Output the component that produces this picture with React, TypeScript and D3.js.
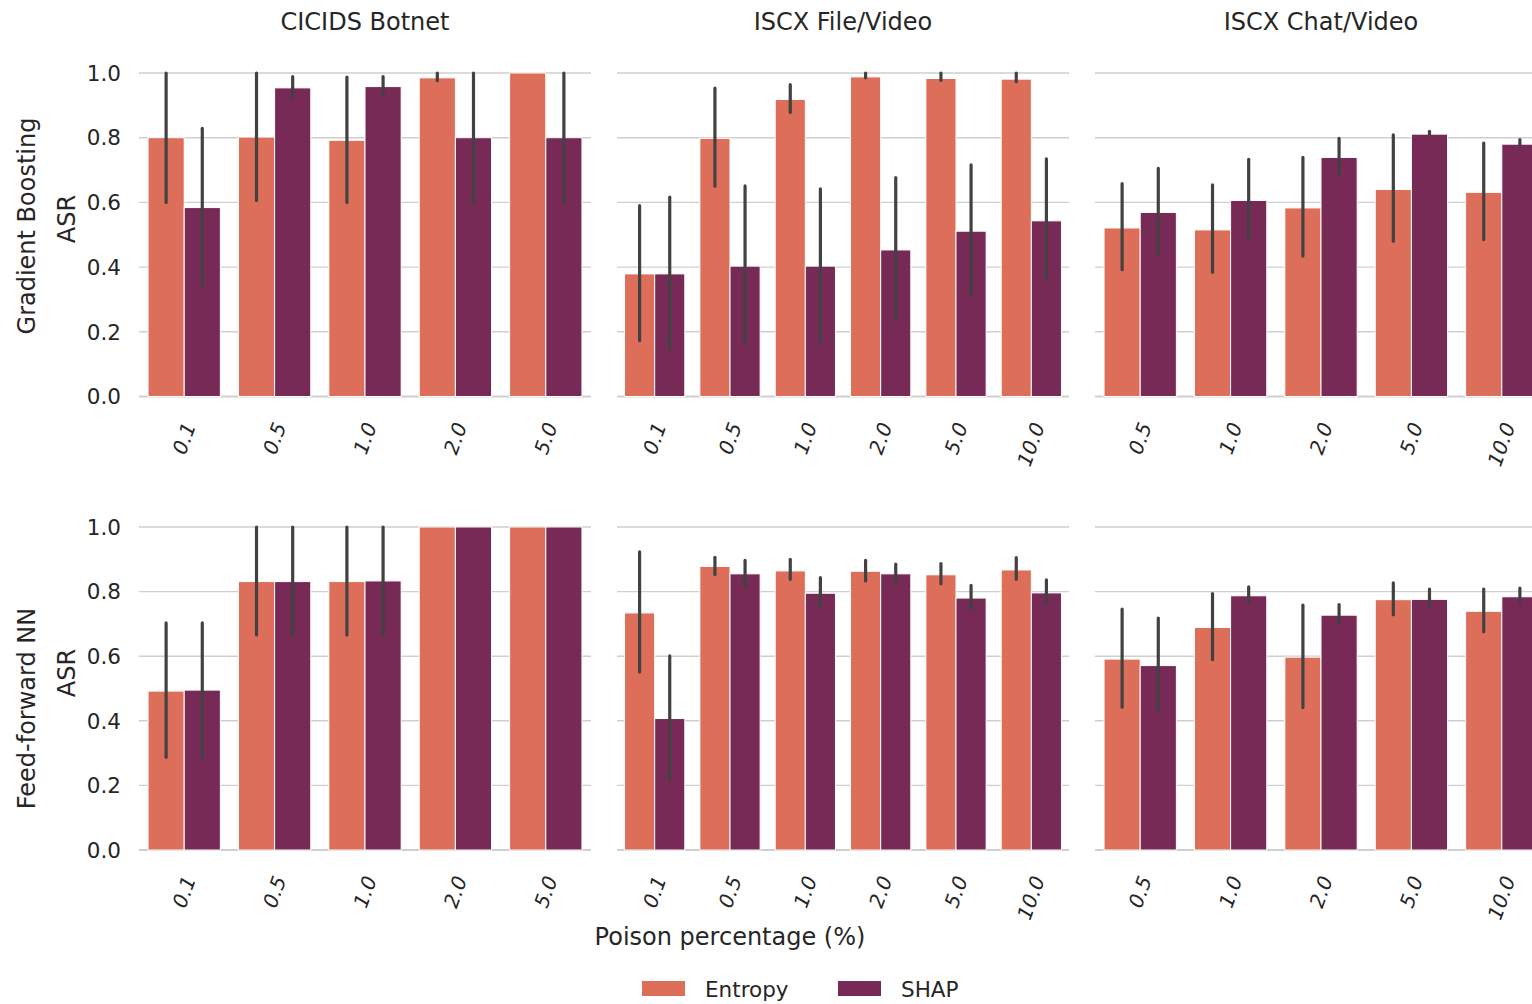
import React, { useEffect, useRef } from "react";
import * as d3 from "d3";

// categories (poison percentage)
const cicidsCats = ["0.1", "0.5", "1.0", "2.0", "5.0"];
const fileVideoCats = ["0.1", "0.5", "1.0", "2.0", "5.0", "10.0"];
const chatVideoCats = ["0.5", "1.0", "2.0", "5.0", "10.0"];

const methods = ["Entropy", "SHAP"];
const colors = ["#dc6e5a", "#782a57"];

// [mean, ci low, ci high]
// Gradient Boosting
const gbCicidsEntropy = [[0.8, 0.6, 1.0], [0.802, 0.606, 1.0], [0.792, 0.6, 0.987], [0.985, 0.976, 1.0], [1.0, 1.0, 1.0]];
const gbCicidsShap = [[0.584, 0.345, 0.829], [0.954, 0.925, 0.989], [0.958, 0.934, 0.989], [0.8, 0.6, 1.0], [0.8, 0.6, 1.0]];
const gbFileEntropy = [[0.379, 0.173, 0.59], [0.798, 0.65, 0.953], [0.918, 0.878, 0.964], [0.988, 0.985, 1.0], [0.983, 0.977, 1.0], [0.981, 0.973, 1.0]];
const gbFileShap = [[0.379, 0.147, 0.616], [0.403, 0.165, 0.651], [0.403, 0.171, 0.642], [0.453, 0.235, 0.677], [0.511, 0.313, 0.716], [0.543, 0.361, 0.735]];
const gbChatEntropy = [[0.521, 0.392, 0.658], [0.515, 0.384, 0.654], [0.583, 0.434, 0.739], [0.64, 0.48, 0.809], [0.631, 0.485, 0.783]];
const gbChatShap = [[0.569, 0.436, 0.705], [0.606, 0.485, 0.733], [0.739, 0.686, 0.798], [0.811, 0.807, 0.82], [0.78, 0.774, 0.794]];
// Feed-forward NN
const nnCicidsEntropy = [[0.492, 0.287, 0.703], [0.831, 0.666, 1.0], [0.831, 0.666, 1.0], [1.0, 1.0, 1.0], [1.0, 1.0, 1.0]];
const nnCicidsShap = [[0.495, 0.287, 0.703], [0.831, 0.666, 1.0], [0.833, 0.666, 1.0], [1.0, 1.0, 1.0], [1.0, 1.0, 1.0]];
const nnFileEntropy = [[0.734, 0.551, 0.923], [0.878, 0.853, 0.906], [0.864, 0.838, 0.9], [0.863, 0.833, 0.897], [0.852, 0.824, 0.887], [0.867, 0.838, 0.905]];
const nnFileShap = [[0.407, 0.217, 0.601], [0.855, 0.818, 0.897], [0.795, 0.752, 0.843], [0.855, 0.83, 0.885], [0.78, 0.746, 0.819], [0.796, 0.765, 0.836]];
const nnChatEntropy = [[0.591, 0.442, 0.746], [0.689, 0.589, 0.794], [0.597, 0.441, 0.758], [0.775, 0.728, 0.827], [0.739, 0.676, 0.808]];
const nnChatShap = [[0.571, 0.432, 0.718], [0.787, 0.765, 0.815], [0.727, 0.7, 0.76], [0.776, 0.752, 0.808], [0.784, 0.764, 0.811]];

const colTitles = ["CICIDS Botnet", "ISCX File/Video", "ISCX Chat/Video"];
const rowTitles = ["Gradient Boosting", "Feed-forward NN"];
const yTicks = [0, 0.2, 0.4, 0.6, 0.8, 1.0];

const panels = [
  { row: 0, col: 0, cats: cicidsCats, series: [gbCicidsEntropy, gbCicidsShap] },
  { row: 0, col: 1, cats: fileVideoCats, series: [gbFileEntropy, gbFileShap] },
  { row: 0, col: 2, cats: chatVideoCats, series: [gbChatEntropy, gbChatShap] },
  { row: 1, col: 0, cats: cicidsCats, series: [nnCicidsEntropy, nnCicidsShap] },
  { row: 1, col: 1, cats: fileVideoCats, series: [nnFileEntropy, nnFileShap] },
  { row: 1, col: 2, cats: chatVideoCats, series: [nnChatEntropy, nnChatShap] },
];

const App = () => {
  const ref = useRef(null);

  useEffect(() => {
    const svg = d3.select(ref.current);
    svg.selectAll("*").remove();

    const textColor = "#262626";
    const sans = "DejaVu Sans, sans-serif";
    const colX = [139, 617, 1095];
    const panelW = 452;
    const rowY = [[396.5, 73], [850, 527]];

    panels.forEach((p) => {
      const x0 = colX[p.col];
      const x = d3.scaleBand().domain(p.cats).range([x0, x0 + panelW]);
      const bw = x.bandwidth();
      const hue = d3.scaleBand().domain(methods).range([bw * 0.1, bw * 0.9]);
      const y = d3.scaleLinear().domain([0, 1]).range(rowY[p.row]);
      const g = svg.append("g");

      // grid
      g.selectAll(".grid").data(yTicks).join("line")
        .attr("x1", x0).attr("x2", x0 + panelW)
        .attr("y1", d => y(d)).attr("y2", d => y(d))
        .attr("stroke", "#cfcfcf")
        .attr("stroke-width", d => d === 0 ? 2 : 1.4);

      // bars
      p.series.forEach((s, si) => {
        g.selectAll(".bar" + si).data(s).join("rect")
          .attr("x", (d, i) => x(p.cats[i]) + hue(methods[si]))
          .attr("y", d => y(d[0]))
          .attr("width", hue.bandwidth())
          .attr("height", d => y(0) - y(d[0]))
          .attr("fill", colors[si])
          .attr("stroke", "#ffffff")
          .attr("stroke-width", 1);
      });

      // error bars
      p.series.forEach((s, si) => {
        g.selectAll(".err" + si).data(s.filter(d => d[2] - d[1] > 0.001).map(d => ({ d, i: s.indexOf(d) })))
          .join("line")
          .attr("x1", e => x(p.cats[e.i]) + hue(methods[si]) + hue.bandwidth() / 2)
          .attr("x2", e => x(p.cats[e.i]) + hue(methods[si]) + hue.bandwidth() / 2)
          .attr("y1", e => y(e.d[1]))
          .attr("y2", e => y(e.d[2]))
          .attr("stroke", "#424242")
          .attr("stroke-width", 3.2)
          .attr("stroke-linecap", "round");
      });

      // y tick labels only on first column
      if (p.col === 0) {
        g.selectAll(".ytick").data(yTicks).join("text")
          .attr("x", x0 - 18)
          .attr("y", d => y(d))
          .attr("dy", "0.36em")
          .attr("text-anchor", "end")
          .attr("font-family", sans)
          .attr("font-size", 21.5)
          .attr("fill", textColor)
          .text(d => d.toFixed(1));
      }

      // x tick labels, rotated
      const fs = 20;
      const ty = y(0) + 27;
      g.selectAll(".xtick").data(p.cats).join("text")
        .attr("transform", d => `translate(${x(d) + bw / 2 + 0.171 * d.length * 0.53 * fs},${ty}) rotate(-70)`)
        .attr("text-anchor", "end")
        .attr("dominant-baseline", "central")
        .attr("font-family", sans)
        .attr("font-style", "italic")
        .attr("font-size", fs)
        .attr("fill", textColor)
        .text(d => d);
    });

    // column titles
    colTitles.forEach((t, i) => {
      svg.append("text")
        .attr("x", colX[i] + panelW / 2)
        .attr("y", 29.5)
        .attr("text-anchor", "middle")
        .attr("font-family", sans)
        .attr("font-size", 24)
        .attr("fill", textColor)
        .text(t);
    });

    // row labels
    const rowLabelY = [226, 708.5];
    const asrY = [219, 673];
    rowTitles.forEach((t, i) => {
      svg.append("text")
        .attr("transform", `translate(35,${rowLabelY[i]}) rotate(-90)`)
        .attr("text-anchor", "middle")
        .attr("font-family", sans)
        .attr("font-size", 24)
        .attr("fill", textColor)
        .text(t);
      svg.append("text")
        .attr("transform", `translate(75,${asrY[i]}) rotate(-90)`)
        .attr("text-anchor", "middle")
        .attr("font-family", sans)
        .attr("font-size", 24)
        .attr("fill", textColor)
        .text("ASR");
    });

    // x axis label
    svg.append("text")
      .attr("x", 730)
      .attr("y", 945)
      .attr("text-anchor", "middle")
      .attr("font-family", sans)
      .attr("font-size", 24)
      .attr("fill", textColor)
      .text("Poison percentage (%)");

    // legend
    const legendX = [642, 838];
    methods.forEach((m, i) => {
      svg.append("rect")
        .attr("x", legendX[i]).attr("y", 981)
        .attr("width", 43).attr("height", 15)
        .attr("fill", colors[i]);
      svg.append("text")
        .attr("x", legendX[i] + 63)
        .attr("y", 997)
        .attr("font-family", sans)
        .attr("font-size", 21.5)
        .attr("fill", textColor)
        .text(m);
    });
  }, []);

  return (
    <svg ref={ref} width={1532} height={1004}
      style={{ position: "absolute", left: 0, top: 0, background: "#fff" }} />
  );
};

export default App;
